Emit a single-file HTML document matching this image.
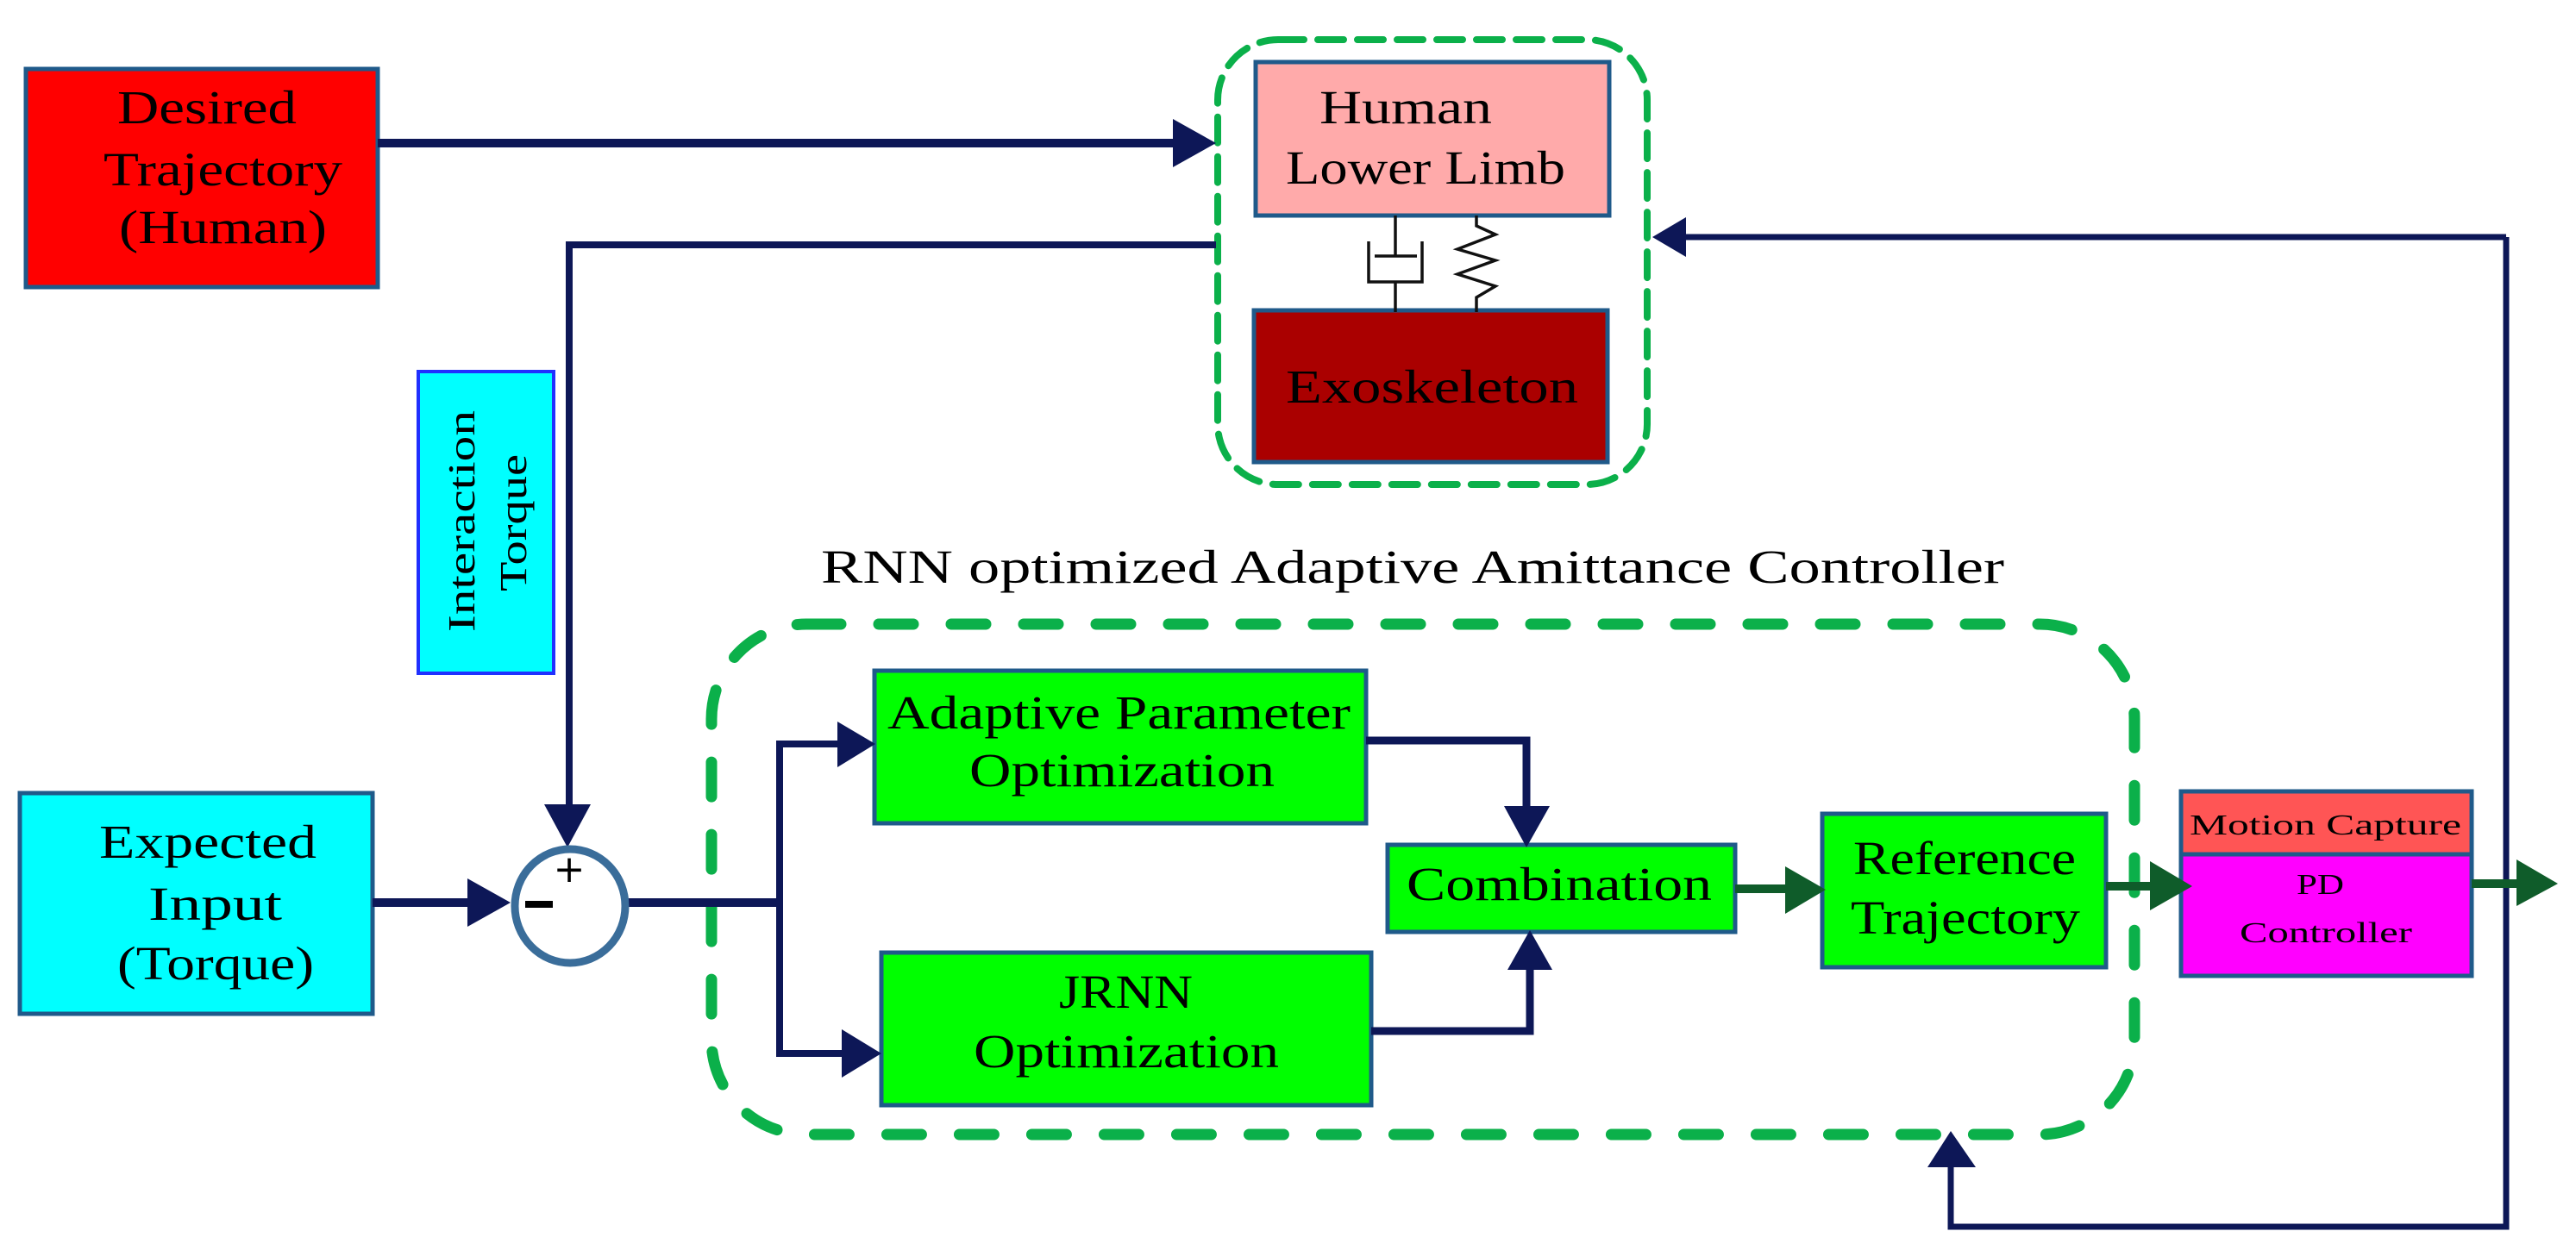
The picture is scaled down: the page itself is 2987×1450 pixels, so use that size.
<!DOCTYPE html>
<html><head><meta charset="utf-8"><style>html,body{margin:0;padding:0;background:#fff}svg{display:block}</style></head>
<body>
<svg width="2987" height="1450" viewBox="0 0 2987 1450" xmlns="http://www.w3.org/2000/svg" font-family="'Liberation Serif', serif">
<defs></defs>
<g stroke="#1f5a8a" stroke-width="5">
<rect x="30" y="80" width="408" height="253" fill="#ff0000"/>
<rect x="1456" y="72" width="410" height="178" fill="#ffaaaa"/>
<rect x="1454" y="360" width="410" height="176" fill="#aa0000"/>
<rect x="485" y="431" width="157" height="350" fill="#00ffff" stroke="#2030ff" stroke-width="4"/>
<rect x="23" y="920" width="409" height="256" fill="#00ffff"/>
<rect x="1014" y="778" width="570" height="177" fill="#00ff00"/>
<rect x="1022" y="1105" width="568" height="177" fill="#00ff00"/>
<rect x="1609" y="980" width="403" height="101" fill="#00ff00"/>
<rect x="2113" y="944" width="329" height="178" fill="#00ff00"/>
<rect x="2529" y="918" width="337" height="73" fill="#ff5555"/>
<rect x="2529" y="991" width="337" height="141" fill="#ff00ff"/>
</g>
<!-- dashed containers -->
<rect x="1412" y="46" width="498" height="516" rx="70" fill="none" stroke="#0bb04a" stroke-width="8" stroke-dasharray="30 16" stroke-linecap="round"/>
<rect x="825" y="724" width="1650" height="592" rx="110" fill="none" stroke="#0bb04a" stroke-width="13" stroke-dasharray="40 44" stroke-linecap="round"/>
<!-- damper & spring -->
<g stroke="#111" stroke-width="3.5" fill="none">
<line x1="1618" y1="250" x2="1618" y2="297"/>
<line x1="1594" y1="297" x2="1643" y2="297"/>
<polyline points="1587,280 1587,327 1649,327 1649,280"/>
<line x1="1618" y1="327" x2="1618" y2="362"/>
<polyline points="1712,250 1712,262 1734,272 1690,289 1734,302 1690,318 1734,332 1712,345 1712,362"/>
</g>
<!-- navy connectors -->
<g stroke="#0d1757" fill="none" stroke-linejoin="miter">
<line x1="438" y1="166" x2="1370" y2="166" stroke-width="10"/>
<polyline points="1410,284 660,284 660,940" stroke-width="8"/>
<polyline points="2906,275 2906,1423 2262,1423 2262,1345" stroke-width="7"/>
<line x1="2906" y1="275" x2="1945" y2="275" stroke-width="7"/>
<line x1="432" y1="1047" x2="550" y2="1047" stroke-width="10"/>
<line x1="727" y1="1047" x2="904" y2="1047" stroke-width="10"/>
<polyline points="980,863 904,863 904,1222 985,1222" stroke-width="8"/>
<polyline points="1584,859 1770,859 1770,940" stroke-width="9"/>
<polyline points="1590,1196 1774,1196 1774,1120" stroke-width="9"/>
</g>
<g fill="#0d1757">
<polygon points="1360,138 1410,166 1360,194"/>
<polygon points="1955,252 1916,275 1955,298"/>
<polygon points="2235,1354 2262,1312 2291,1354"/>
<polygon points="542,1019 592,1047 542,1075"/>
<polygon points="631,933 658,983 685,933"/>
<polygon points="971,837 1015,863 971,890"/>
<polygon points="976,1194 1022,1222 976,1250"/>
<polygon points="1744,935 1770,983 1797,935"/>
<polygon points="1748,1125 1774,1079 1800,1125"/>
</g>
<g stroke="#0f5c2a" stroke-width="10"><line x1="2012" y1="1031" x2="2075" y2="1031"/><line x1="2442" y1="1028" x2="2497" y2="1028"/><line x1="2866" y1="1025" x2="2922" y2="1025"/></g>
<g fill="#0f5c2a">
<polygon points="2070,1005 2117,1032 2070,1060"/>
<polygon points="2493,999 2542,1028 2493,1056"/>
<polygon points="2918,997 2966,1025 2918,1051"/>
</g>
<ellipse cx="661" cy="1051" rx="64" ry="66" fill="#fff" stroke="#3a6d9a" stroke-width="9"/>
<text x="660" y="1023" font-size="44" text-anchor="middle" font-family="'DejaVu Sans',sans-serif">+</text>
<rect x="609" y="1045" width="32" height="8" fill="#000"/>
<!-- texts -->
<g fill="#000" font-size="55" lengthAdjust="spacingAndGlyphs">
<text x="136" y="143" textLength="208" lengthAdjust="spacingAndGlyphs">Desired</text>
<text x="120" y="215" textLength="277" lengthAdjust="spacingAndGlyphs">Trajectory</text>
<text x="138" y="282" textLength="241" lengthAdjust="spacingAndGlyphs">(Human)</text>
<text x="1530" y="143" textLength="200" lengthAdjust="spacingAndGlyphs">Human</text>
<text x="1491" y="213" textLength="324" lengthAdjust="spacingAndGlyphs">Lower Limb</text>
<text x="1491" y="467" textLength="339" lengthAdjust="spacingAndGlyphs">Exoskeleton</text>
<text x="952" y="676" textLength="1372" lengthAdjust="spacingAndGlyphs">RNN optimized Adaptive Amittance Controller</text>
<text x="115" y="995" textLength="252" lengthAdjust="spacingAndGlyphs">Expected</text>
<text x="172" y="1067" textLength="155" lengthAdjust="spacingAndGlyphs">Input</text>
<text x="136" y="1136" textLength="228" lengthAdjust="spacingAndGlyphs">(Torque)</text>
<text x="1029" y="845" textLength="537" lengthAdjust="spacingAndGlyphs">Adaptive Parameter</text>
<text x="1124" y="912" textLength="354" lengthAdjust="spacingAndGlyphs">Optimization</text>
<text x="1228" y="1169" textLength="155" lengthAdjust="spacingAndGlyphs">JRNN</text>
<text x="1129" y="1238" textLength="354" lengthAdjust="spacingAndGlyphs">Optimization</text>
<text x="1631" y="1044" textLength="354" lengthAdjust="spacingAndGlyphs">Combination</text>
<text x="2149" y="1014" textLength="258" lengthAdjust="spacingAndGlyphs">Reference</text>
<text x="2146" y="1083" textLength="266" lengthAdjust="spacingAndGlyphs">Trajectory</text>
<text x="2539" y="968" font-size="34" textLength="315" lengthAdjust="spacingAndGlyphs">Motion Capture</text>
<text x="2663" y="1037" font-size="34" textLength="55" lengthAdjust="spacingAndGlyphs">PD</text>
<text x="2597" y="1093" font-size="34" textLength="200" lengthAdjust="spacingAndGlyphs">Controller</text>
<text transform="translate(550,733) rotate(-90)" font-size="44" textLength="257" lengthAdjust="spacingAndGlyphs">Interaction</text>
<text transform="translate(610,686) rotate(-90)" font-size="44" textLength="159" lengthAdjust="spacingAndGlyphs">Torque</text>
</g>
</svg>
</body></html>
